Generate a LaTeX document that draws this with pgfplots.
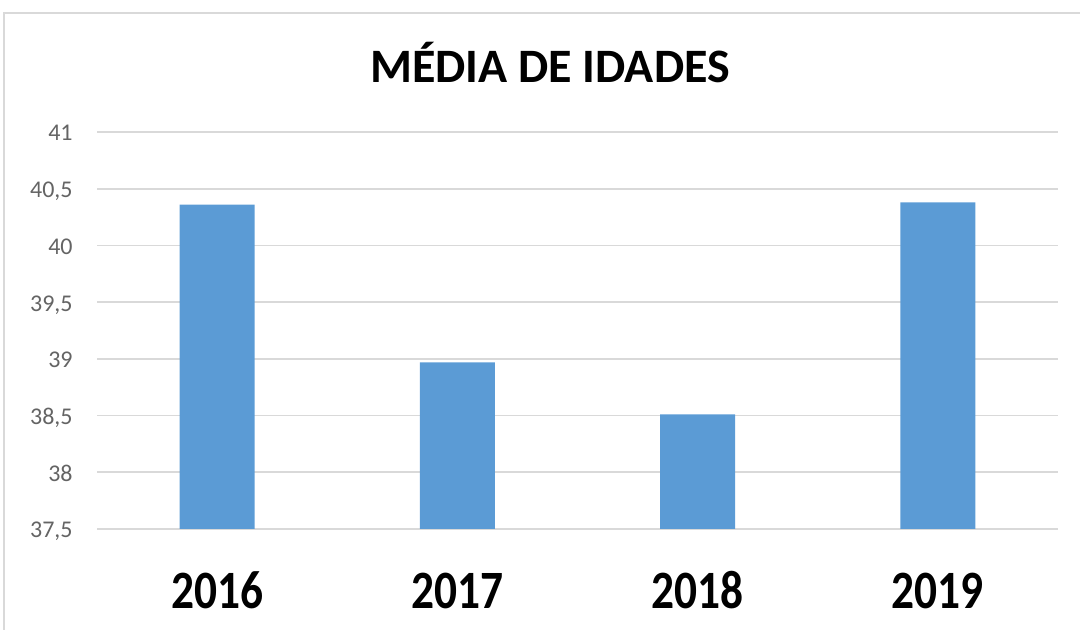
\documentclass[border=0pt]{standalone}
\usepackage{fontspec}
\setmainfont{Carlito}
\newfontfamily\yearfont[FakeStretch=0.84]{Carlito}
\usepackage{pgfplots}
\pgfplotsset{compat=1.18}
\definecolor{barblue}{RGB}{91,155,213}
\definecolor{gridgray}{RGB}{217,217,217}
\definecolor{tickgray}{RGB}{100,100,100}
\begin{document}
\begin{tikzpicture}
\useasboundingbox (0,0) rectangle (540pt,315pt);
\draw[gridgray, line width=1pt] (2pt,0) -- (2pt,308.5pt) -- (540pt,308.5pt);
\node[anchor=base, font=\fontsize{24pt}{28pt}\selectfont\bfseries] at (275pt,273.6pt) {MÉDIA DE IDADES};
\begin{axis}[
  at={(48.5pt,50.5pt)}, anchor=south west,
  scale only axis, width=480.5pt, height=198.5pt,
  ybar, bar width=37.5pt, bar shift=0pt,
  xmin=-0.5, xmax=3.5, ymin=37.5, ymax=41,
  xtick=data, xticklabels={2016,2017,2018,2019},
  ytick={37.5,38,38.5,39,39.5,40,40.5,41},
  ymajorgrids, grid style={gridgray, line width=0.8pt},
  axis line style={draw=none},
  major tick length=0pt,
  /pgf/number format/.cd, use comma, assume math mode=true,
  /pgfplots/.cd,
  yticklabel style={anchor=base east, inner sep=0pt, xshift=-12pt, yshift=-4.5pt, font=\fontsize{12pt}{14pt}\selectfont, text=tickgray},
  xticklabel style={anchor=base, inner sep=0pt, yshift=-40pt, font=\fontsize{27pt}{30pt}\selectfont\yearfont\bfseries, text=black},
]
\addplot[fill=barblue, draw=none] coordinates {(0,40.36) (1,38.97) (2,38.51) (3,40.38)};
\end{axis}
\end{tikzpicture}
\end{document}
